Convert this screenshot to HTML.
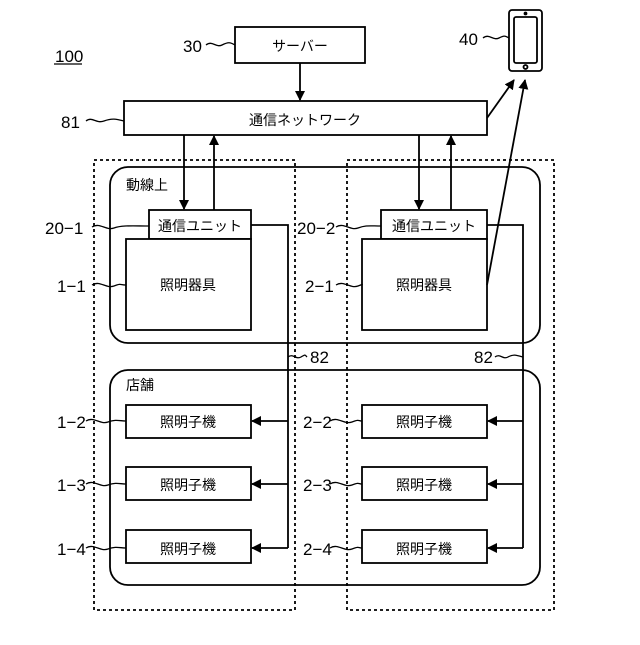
<!DOCTYPE html>
<html><head><meta charset="utf-8"><style>
html,body{margin:0;padding:0;background:#fff}
text{font-family:"Liberation Sans","Noto Sans CJK JP",sans-serif;fill:#000}
</style></head><body>
<svg width="640" height="640" viewBox="0 0 640 640" xmlns="http://www.w3.org/2000/svg">
<defs><marker id="a" markerWidth="10" markerHeight="10" refX="9" refY="5" orient="auto" markerUnits="userSpaceOnUse"><path d="M0,0 L10,5 L0,10 z" fill="#000"/></marker></defs>
<g fill="none" stroke="#000" stroke-width="1.8">
<rect x="94" y="160" width="201" height="450" stroke-dasharray="3,3"/>
<rect x="347" y="160" width="207" height="450" stroke-dasharray="3,3"/>
<rect x="110" y="167" width="430" height="176" rx="18"/>
<rect x="110" y="370" width="430" height="215" rx="18"/>
<rect x="235" y="27" width="130" height="36" fill="#fff"/>
<rect x="124" y="101" width="363" height="34" fill="#fff"/>
<rect x="509" y="10" width="33" height="61" rx="3"/>
<rect x="514" y="17" width="23" height="46" rx="2"/>
<circle cx="525.5" cy="67" r="2"/>
<circle cx="525.5" cy="13.5" r="1" fill="#000"/>
<rect x="149" y="210" width="102" height="29" fill="#fff"/>
<rect x="126" y="239" width="125" height="91" fill="#fff"/>
<rect x="381" y="210" width="106" height="29" fill="#fff"/>
<rect x="362" y="239" width="125" height="91" fill="#fff"/>
<rect x="126" y="405" width="125" height="33"/><rect x="126" y="467" width="125" height="33"/><rect x="126" y="530" width="125" height="33"/>
<rect x="362" y="405" width="125" height="33"/><rect x="362" y="467" width="125" height="33"/><rect x="362" y="530" width="125" height="33"/>
<line x1="300" y1="63" x2="300" y2="100" marker-end="url(#a)"/>
<line x1="184" y1="135" x2="184" y2="209" marker-end="url(#a)"/>
<line x1="214" y1="210" x2="214" y2="136" marker-end="url(#a)"/>
<line x1="419" y1="135" x2="419" y2="209" marker-end="url(#a)"/>
<line x1="451" y1="210" x2="451" y2="136" marker-end="url(#a)"/>
<line x1="487" y1="118" x2="514" y2="80" marker-end="url(#a)"/>
<line x1="487" y1="285" x2="525" y2="80" marker-end="url(#a)"/>
<polyline points="251,225 288,225 288,548"/>
<polyline points="487,225 523,225 523,548"/>
<line x1="288" y1="421" x2="252" y2="421" marker-end="url(#a)"/>
<line x1="288" y1="484" x2="252" y2="484" marker-end="url(#a)"/>
<line x1="288" y1="548" x2="252" y2="548" marker-end="url(#a)"/>
<line x1="523" y1="421" x2="488" y2="421" marker-end="url(#a)"/>
<line x1="523" y1="484" x2="488" y2="484" marker-end="url(#a)"/>
<line x1="523" y1="548" x2="488" y2="548" marker-end="url(#a)"/>
<g stroke-width="1.3">
<path d="M206,45 c6,-5 10,3 16,0 s8,-3 13,0"/>
<path d="M483,38 c6,-5 10,3 16,0 s6,-2 10,0"/>
<path d="M86,121 c6,-5 10,3 18,0 s12,-2 20,0"/>
<path d="M92,227 c8,-5 14,4 22,1 s20,-2 35,-2"/>
<path d="M92,285 c8,-5 14,4 22,1 s6,-1 12,-1"/>
<path d="M336,227 c8,-5 14,4 22,1 s12,-2 23,-2"/>
<path d="M336,285 c8,-5 14,4 22,1 s2,-1 4,-1"/>
<path d="M288,357 c5,-4 8,3 13,0 s4,-2 6,0"/>
<path d="M495,357 c5,-4 8,3 13,0 s8,-2 15,0"/>
<path d="M86,421 c8,-5 14,4 22,1 s12,-1 18,-1"/>
<path d="M86,484 c8,-5 14,4 22,1 s12,-1 18,-1"/>
<path d="M86,548 c8,-5 14,4 22,1 s12,-1 18,-1"/>
<path d="M330,421 c8,-5 14,4 22,1 s6,-1 10,-1"/>
<path d="M330,484 c8,-5 14,4 22,1 s6,-1 10,-1"/>
<path d="M330,548 c8,-5 14,4 22,1 s6,-1 10,-1"/>
</g>
<line x1="54" y1="64" x2="82" y2="64" stroke-width="1.3"/>
</g>
<g font-size="14">
<text x="300" y="51" text-anchor="middle" font-size="14">サーバー</text>
<text x="305" y="125" text-anchor="middle" font-size="14">通信ネットワーク</text>
<text x="200" y="231" text-anchor="middle" font-size="14">通信ユニット</text>
<text x="434" y="231" text-anchor="middle" font-size="14">通信ユニット</text>
<text x="188" y="290" text-anchor="middle" font-size="14">照明器具</text>
<text x="424" y="290" text-anchor="middle" font-size="14">照明器具</text>
<text x="126" y="190" font-size="14">動線上</text>
<text x="126" y="390" font-size="14">店舗</text>
<g font-size="14" text-anchor="middle">
<text x="188" y="427">照明子機</text><text x="188" y="490">照明子機</text><text x="188" y="554">照明子機</text>
<text x="424" y="427">照明子機</text><text x="424" y="490">照明子機</text><text x="424" y="554">照明子機</text>
</g>
<text x="55" y="62" font-size="17">100</text>
<text x="183" y="52" font-size="17">30</text>
<text x="459" y="45" font-size="17">40</text>
<text x="61" y="128" font-size="17">81</text>
<text x="45" y="234" font-size="17">20−1</text>
<text x="57" y="292" font-size="17">1−1</text>
<text x="297" y="234" font-size="17">20−2</text>
<text x="305" y="292" font-size="17">2−1</text>
<text x="310" y="363" font-size="17">82</text>
<text x="474" y="363" font-size="17">82</text>
<text x="57" y="428" font-size="17">1−2</text>
<text x="57" y="491" font-size="17">1−3</text>
<text x="57" y="555" font-size="17">1−4</text>
<text x="303" y="428" font-size="17">2−2</text>
<text x="303" y="491" font-size="17">2−3</text>
<text x="303" y="555" font-size="17">2−4</text>
</g>
</svg>
</body></html>
